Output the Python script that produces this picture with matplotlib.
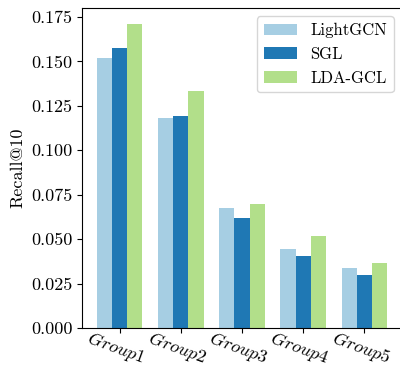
import matplotlib
matplotlib.use('Agg')
import matplotlib.pyplot as plt
import numpy as np

# Recall@10 per user group
groups = ['Group1', 'Group2', 'Group3', 'Group4', 'Group5']
lightgcn = [0.152, 0.118, 0.0676, 0.0445, 0.0338]
sgl = [0.1577, 0.1194, 0.0619, 0.0405, 0.0298]
ldagcl = [0.1712, 0.1334, 0.0698, 0.0518, 0.0366]

plt.rcParams['font.family'] = 'serif'
plt.rcParams['font.serif'] = ['cmr10']
plt.rcParams['mathtext.fontset'] = 'cm'
plt.rcParams['axes.formatter.use_mathtext'] = True

fig = plt.figure(figsize=(4, 3.71), dpi=100)
ax = fig.add_axes([0.205, 0.116, 0.80, 0.862])

x = np.arange(len(groups))
w = 0.25
ax.bar(x - w, lightgcn, w, color='#a6cee3', label='LightGCN')
ax.bar(x, sgl, w, color='#1f78b4', label='SGL')
ax.bar(x + w, ldagcl, w, color='#b2df8a', label='LDA-GCL')

ax.set_ylim(0, 0.18)
ax.set_yticks(np.arange(0, 0.176, 0.025))
ax.set_yticklabels([f'{v:.3f}' for v in np.arange(0, 0.176, 0.025)])
ax.set_xticks(x)
ax.set_xticklabels([f'${g}$' for g in groups], rotation=-20, fontsize=13,
                   ha='center', va='top', rotation_mode='anchor')
ax.tick_params(axis='x', pad=4)
ax.tick_params(axis='y', labelsize=13)
ax.set_ylabel('Recall@10', fontsize=13)
ax.legend(fontsize=12, loc='upper right')

plt.savefig('out.png')
